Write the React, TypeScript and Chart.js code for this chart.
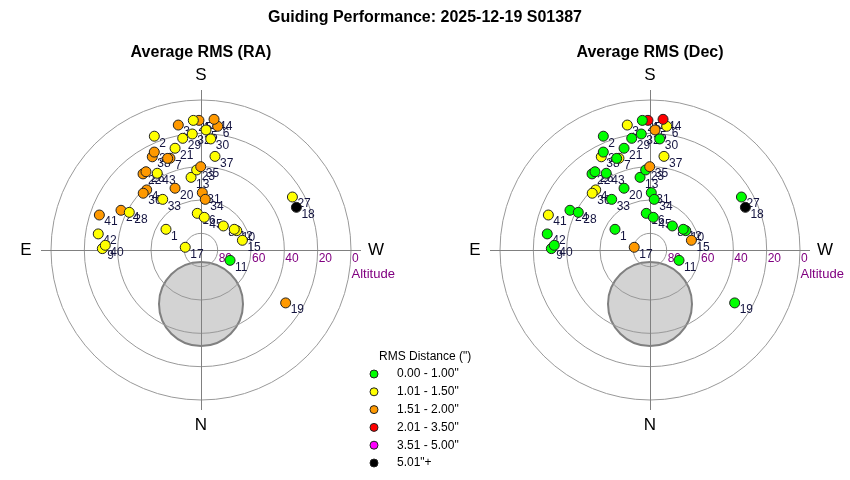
import React, { useEffect, useRef } from "react";
import { Chart, registerables } from "chart.js";

Chart.register(...registerables);

// ---- data ----
const pointLabels = [
  "1", "2", "3", "4", "5", "6", "7", "8", "9", "10",
  "11", "12", "13", "14", "15", "16", "17", "18", "19", "20",
  "21", "22", "23", "24", "25", "26", "27", "28", "29", "30",
  "31", "32", "33", "34", "35", "36", "37", "38", "39", "40",
  "41", "42", "43", "44", "45", "",
];
// altitude (deg)
const altitudes = [
  65.6, 16.2, 13.8, 41.4, 17.9, 15.1, 31.9, 70.3, 30.8, 65.6,
  71.5, 66.5, 46.0, 12.2, 64.5, 67.9, 80.4, 27.3, 30.1, 49.8,
  27.0, 32.6, 41.9, 36.4, 12.1, 32.6, 26.6, 41.4, 22.1, 23.1,
  55.6, 20.2, 51.9, 59.5, 40.0, 41.4, 33.2, 26.9, 24.9, 32.5,
  25.5, 27.6, 37.0, 11.2, 70.3, 31.5,
];
// azimuth (deg, N=0, E=90)
const azimuths = [
  120.6, 157.7, 169.7, 137.9, 182.4, 187.7, 161.3, 222.9, 90.8, 241.6,
  289.6, 238.1, 172.2, 179.1, 256.8, 174.2, 99.8, 245.9, 302.0, 157.2,
  165.7, 142.7, 176.9, 116.4, 176.6, 144.9, 239.9, 117.7, 170.7, 185.0,
  181.3, 175.7, 142.9, 184.8, 179.8, 134.5, 188.5, 152.4, 154.5, 92.8,
  109.0, 98.9, 150.3, 185.7, 185.8, 160.0,
];
// RMS class index per point (see binLabels)
const raBins = [
  1, 1, 2, 2, 1, 2, 2, 1, 1, 1,
  0, 1, 1, 2, 1, 1, 1, 5, 2, 2,
  1, 2, 1, 2, 1, 2, 1, 1, 1, 1,
  2, 1, 1, 2, 2, 2, 1, 2, 2, 1,
  2, 1, 1, 2, 1, 2,
];
const decBins = [
  0, 0, 1, 1, 2, 1, 1, 0, 0, 0,
  0, 0, 0, 3, 2, 0, 2, 5, 0, 0,
  0, 0, 0, 0, 0, 0, 0, 0, 0, 0,
  0, 0, 0, 0, 2, 1, 1, 1, 0, 0,
  1, 0, 0, 3, 0, 0,
];
const binLabels = ['0.00 - 1.00"', '1.01 - 1.50"', '1.51 - 2.00"', '2.01 - 3.50"', '3.51 - 5.00"', '5.01"+'];
const binColors = ["#00ff00", "#ffff00", "#ff9900", "#ff0000", "#ff00ff", "#000000"];
const altitudeRings = [80, 60, 40, 20, 0];
const compassPoints = [
  { label: "S", az: 180 },
  { label: "N", az: 0 },
  { label: "E", az: 90 },
  { label: "W", az: 270 },
];
const exclusionAlt = 57.6;
const exclusionAz = 0;
const exclusionRadius = 25.2;
const mainTitle = "Guiding Performance: 2025-12-19 S01387";
const panelTitles = ["Average RMS (RA)", "Average RMS (Dec)"];
const legendTitle = 'RMS Distance (")';

// ---- helpers ----
const D2R = Math.PI / 180;
function project(alt: number, az: number) {
  const z = 90 - alt;
  return { x: -z * Math.sin(az * D2R), y: -z * Math.cos(az * D2R) };
}

const FONT = "'Liberation Sans', Arial, sans-serif";
const W = 850;
const H = 480;
const PX_PER_DEG = 150 / 90;
const CX = [201, 650];
const CY = 250;

const panels = [
  { xId: "xL", bins: raBins, title: panelTitles[0] },
  { xId: "xR", bins: decBins, title: panelTitles[1] },
];

const skyPlugin = {
  id: "skyDecor",
  beforeDatasetsDraw(chart: any) {
    const ctx: CanvasRenderingContext2D = chart.ctx;
    const ys = chart.scales.y;
    ctx.save();
    panels.forEach((panel, pi) => {
      const xs = chart.scales[panel.xId];
      const cx = xs.getPixelForValue(0);
      const cy = ys.getPixelForValue(0);
      const k = xs.getPixelForValue(1) - cx;

      // exclusion circle
      const e = project(exclusionAlt, exclusionAz);
      ctx.beginPath();
      ctx.arc(xs.getPixelForValue(e.x), ys.getPixelForValue(e.y), exclusionRadius * k, 0, Math.PI * 2);
      ctx.fillStyle = "#d3d3d3";
      ctx.fill();
      ctx.lineWidth = 2;
      ctx.strokeStyle = "#808080";
      ctx.stroke();

      // rings
      ctx.lineWidth = 1;
      ctx.strokeStyle = "#999999";
      altitudeRings.forEach((a) => {
        ctx.beginPath();
        ctx.arc(cx, cy, (90 - a) * k, 0, Math.PI * 2);
        ctx.stroke();
      });

      // cross
      const ext = 96 * k;
      ctx.strokeStyle = "#808080";
      ctx.beginPath();
      ctx.moveTo(cx - ext, cy + 0.5);
      ctx.lineTo(cx + ext, cy + 0.5);
      ctx.moveTo(cx + 0.5, cy - ext);
      ctx.lineTo(cx + 0.5, cy + ext);
      ctx.stroke();

      // altitude labels
      ctx.fillStyle = "#800080";
      ctx.font = `12px ${FONT}`;
      ctx.textAlign = "left";
      ctx.textBaseline = "middle";
      altitudeRings.forEach((a) => {
        ctx.fillText(String(a), cx + (90 - a) * k + 1, cy + 9);
      });
      ctx.font = `13px ${FONT}`;
      ctx.fillText("Altitude", cx + 90 * k + 0.5, cy + 24);

      // compass
      ctx.fillStyle = "#000";
      ctx.font = `17px ${FONT}`;
      ctx.textAlign = "center";
      compassPoints.forEach((c) => {
        const p = project(-15, c.az);
        ctx.fillText(c.label, xs.getPixelForValue(p.x), ys.getPixelForValue(p.y));
      });

      // panel title
      ctx.font = `bold 16px ${FONT}`;
      ctx.fillText(panel.title, cx, 53);

      // point labels
      const meta = chart.getDatasetMeta(pi);
      ctx.font = `12px ${FONT}`;
      ctx.textAlign = "left";
      ctx.fillStyle = "#141440";
      meta.data.forEach((el: any, i: number) => {
        if (pointLabels[i]) ctx.fillText(pointLabels[i], el.x + 5, el.y + 7);
      });
    });

    // main title
    ctx.fillStyle = "#000";
    ctx.font = `bold 16px ${FONT}`;
    ctx.textAlign = "center";
    ctx.textBaseline = "middle";
    ctx.fillText(mainTitle, W / 2, 18);

    // legend
    ctx.textAlign = "left";
    ctx.font = `12px ${FONT}`;
    ctx.fillText(legendTitle, 379, 357);
    binLabels.forEach((lab, i) => {
      const y = 374 + i * 17.8;
      ctx.beginPath();
      ctx.arc(374, y, 4, 0, Math.PI * 2);
      ctx.fillStyle = binColors[i];
      ctx.fill();
      ctx.lineWidth = 1;
      ctx.strokeStyle = "#222";
      ctx.stroke();
      ctx.fillStyle = "#000";
      ctx.fillText(lab, 397, y);
    });
    ctx.restore();
  },
};

export default function App() {
  const ref = useRef<HTMLCanvasElement | null>(null);
  useEffect(() => {
    if (!ref.current) return;
    const pts = altitudes.map((a, i) => project(a, azimuths[i]));
    const k = 1 / PX_PER_DEG;
    const chart = new Chart(ref.current, {
      type: "scatter",
      data: {
        datasets: panels.map((p) => ({
          label: p.title,
          xAxisID: p.xId,
          yAxisID: "y",
          data: pts.map((q) => ({ x: q.x, y: q.y })),
          pointBackgroundColor: p.bins.map((b) => binColors[b]),
          pointBorderColor: "#222",
          pointBorderWidth: 1,
          pointRadius: 5,
          pointHoverRadius: 5,
          clip: false,
        })),
      },
      options: {
        animation: false,
        responsive: false,
        events: [],
        layout: { padding: 0, autoPadding: false },
        plugins: { legend: { display: false }, tooltip: { enabled: false }, title: { display: false } },
        scales: {
          xL: { type: "linear", axis: "x", display: false, min: -CX[0] * k, max: (W - CX[0]) * k },
          xR: { type: "linear", axis: "x", display: false, min: -CX[1] * k, max: (W - CX[1]) * k },
          y: { type: "linear", display: false, min: -(H - CY) * k, max: CY * k },
        },
      } as any,
      plugins: [skyPlugin],
    });
    return () => chart.destroy();
  }, []);
  return (
    <div style={{ position: "absolute", left: 0, top: 0, width: W, height: H, background: "#fff" }}>
      <canvas ref={ref} width={W} height={H} style={{ width: W, height: H, display: "block" }} />
    </div>
  );
}
